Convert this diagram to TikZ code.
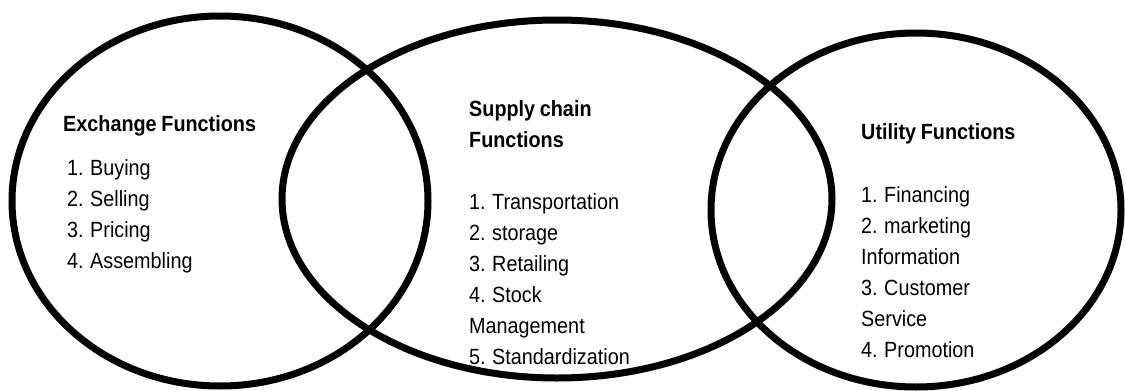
\documentclass[tikz,border=0pt]{standalone}
\usepackage{fontspec}
\setmainfont{Liberation Sans}[FakeStretch=0.9, WordSpace=0.85]
\begin{document}
\begin{tikzpicture}[x=1pt,y=-1pt,
  ring/.style={draw=black, line width=7pt},
  head/.style={anchor=base west, inner sep=0pt, font=\fontsize{22}{31}\selectfont\bfseries},
  item/.style={anchor=base west, inner sep=0pt, font=\fontsize{22}{31}\selectfont}]
\useasboundingbox (0,0) rectangle (1125,391);

% three overlapping function groups
\draw[ring] (220,201) ellipse [x radius=208pt, y radius=185pt];
\draw[ring] (557,199) ellipse [x radius=275pt, y radius=179pt];
\draw[ring] (916,210) ellipse [x radius=205pt, y radius=177pt];

% exchange functions
\node[head] (exh) at (63,131) {Exchange Functions};
\node[item] (ex1) at (67,175) {1. Buying};
\node[item] (ex2) at (67,206) {2. Selling};
\node[item] (ex3) at (67,237) {3. Pricing};
\node[item] (ex4) at (67,268) {4. Assembling};

% supply chain functions
\node[head] (suh1) at (469,116) {Supply chain};
\node[head] (suh2) at (469,147) {Functions};
\node[item] (su1) at (469,209) {1. Transportation};
\node[item] (su2) at (469,240) {2. storage};
\node[item] (su3) at (469,271) {3. Retailing};
\node[item] (su4a) at (469,302) {4. Stock};
\node[item] (su4b) at (469,333) {Management};
\node[item] (su5) at (469,364) {5. Standardization};

% utility functions
\node[head] (uth) at (861,139) {Utility Functions};
\node[item] (ut1) at (861,202) {1. Financing};
\node[item] (ut2a) at (861,233) {2. marketing};
\node[item] (ut2b) at (861,264) {Information};
\node[item] (ut3a) at (861,295) {3. Customer};
\node[item] (ut3b) at (861,326) {Service};
\node[item] (ut4) at (861,357) {4. Promotion};
\end{tikzpicture}
\end{document}
